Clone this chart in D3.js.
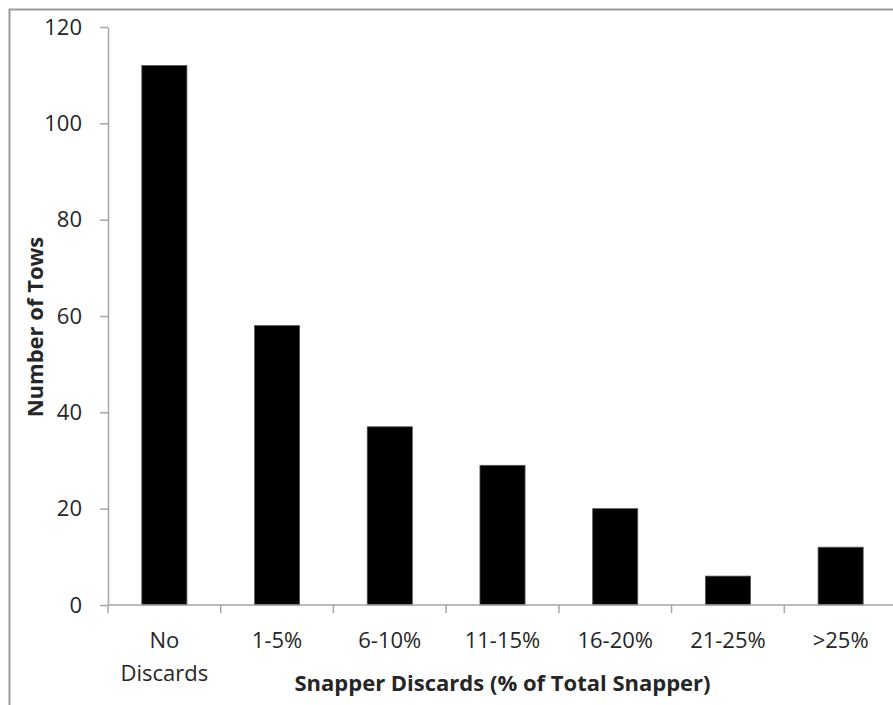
<!DOCTYPE html>
<html>
<head>
<meta charset="utf-8">
<script src="https://cdn.jsdelivr.net/npm/d3@7"></script>
<style>
  body { margin: 0; background: #fff; }
  text { font-family: "Open Sans", sans-serif; fill: #262626; }
</style>
</head>
<body>
<script>
// data
const categories = ["No Discards", "1-5%", "6-10%", "11-15%", "16-20%", "21-25%", ">25%"];
const tows = [112, 58, 37, 29, 20, 6, 12];
const yTicks = [0, 20, 40, 60, 80, 100, 120];

const W = 893, H = 705;
const margin = { left: 108, top: 27, right: 893 - 897, bottom: H - 605 };

const svg = d3.select("body").append("svg")
  .attr("width", W).attr("height", H);

// chart frame, runs past the right and bottom edge
svg.append("rect")
  .attr("x", 9.5).attr("y", 9.5)
  .attr("width", W + 20).attr("height", H + 20)
  .attr("fill", "none").attr("stroke", "#9a9a9a").attr("stroke-width", 2);

const x = d3.scaleBand()
  .domain(categories)
  .range([margin.left, W - margin.right])
  .paddingInner(0.6).paddingOuter(0.3);

const y = d3.scaleLinear()
  .domain([0, 120])
  .range([H - margin.bottom, margin.top]);

// bars
svg.selectAll("rect.bar")
  .data(tows)
  .enter()
  .append("rect")
  .attr("class", "bar")
  .attr("x", (d, i) => x(categories[i]))
  .attr("y", d => y(d))
  .attr("width", x.bandwidth())
  .attr("height", d => y(0) - y(d))
  .attr("fill", "#000")
  .attr("stroke", "#555").attr("stroke-width", 0.8);

// y axis
const yAxis = svg.append("g")
  .attr("transform", `translate(${margin.left},0)`)
  .call(d3.axisLeft(y).tickValues(yTicks).tickSize(8).tickSizeOuter(0).tickPadding(18));
yAxis.selectAll("path, line").attr("stroke", "#a6a6a6").attr("stroke-width", 1.5);
yAxis.selectAll("text").attr("font-size", 22).attr("font-family", "Open Sans").attr("fill", "#262626");

// x axis: ticks sit between categories
const xg = svg.append("g");
xg.append("line")
  .attr("x1", margin.left).attr("x2", W)
  .attr("y1", y(0)).attr("y2", y(0))
  .attr("stroke", "#a6a6a6").attr("stroke-width", 1.5);
const step = x.step();
xg.selectAll("line.tick")
  .data(d3.range(categories.length + 1))
  .enter()
  .append("line")
  .attr("x1", i => margin.left + i * step).attr("x2", i => margin.left + i * step)
  .attr("y1", y(0)).attr("y2", y(0) + 8)
  .attr("stroke", "#a6a6a6").attr("stroke-width", 1.5);

const labels = xg.selectAll("text.cat")
  .data(categories)
  .enter()
  .append("text")
  .attr("class", "cat")
  .attr("text-anchor", "middle")
  .attr("font-size", 22)
  .attr("x", d => x(d) + x.bandwidth() / 2);
labels.each(function (d) {
  const parts = d === "No Discards" ? ["No", "Discards"] : [d];
  parts.forEach((p, k) => {
    d3.select(this).append("tspan")
      .attr("x", x(d) + x.bandwidth() / 2)
      .attr("y", 648 + k * 33)
      .text(p);
  });
});

// axis titles
svg.append("text")
  .attr("x", margin.left + 7 * step / 2).attr("y", 691)
  .attr("text-anchor", "middle")
  .attr("font-size", 22).attr("font-weight", "bold").attr("fill", "#000")
  .text("Snapper Discards (% of Total Snapper)");

svg.append("text")
  .attr("transform", "translate(43,327) rotate(-90)")
  .attr("text-anchor", "middle")
  .attr("font-size", 22).attr("font-weight", "bold").attr("fill", "#000")
  .text("Number of Tows");
</script>
</body>
</html>
